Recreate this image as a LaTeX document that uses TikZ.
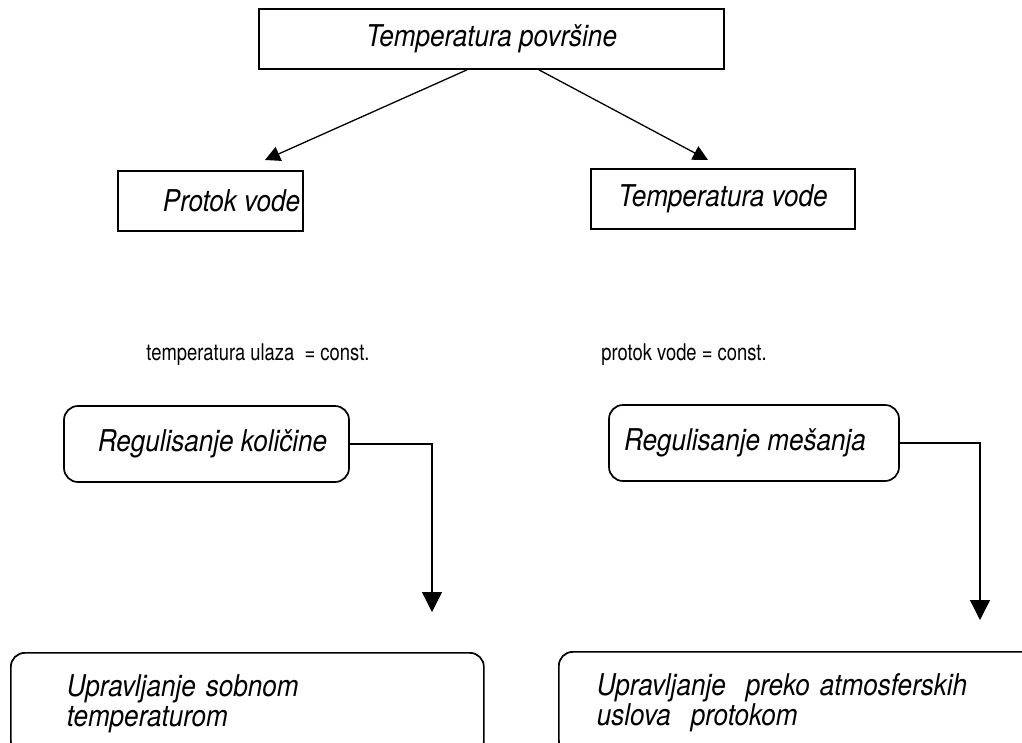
\documentclass[tikz,border=0pt]{standalone}
\usepackage{fontspec}
\setmainfont{TeX Gyre Heros}[FakeStretch=0.87]
\newfontfamily\condfont{TeX Gyre Heros}[FakeStretch=0.8]
\usetikzlibrary{arrows.meta}

\begin{document}
\begin{tikzpicture}[x=1pt,y=-1pt,
    box/.style={draw, line width=1.7pt, inner sep=0pt,
      font=\fontsize{30}{30}\selectfont\itshape},
    roundbox/.style={box, rounded corners=14pt},
    cond/.style={font=\condfont\fontsize{23}{27}\selectfont},
    link/.style={line width=1.3pt, -{Triangle[length=15pt,width=15pt]}},
    drop/.style={line width=1.3pt, -{Triangle[length=20pt,width=20pt]}}]
  \clip (0,0) rectangle (1022,742);

  % quantity that is measured
  \node[box, minimum width=465pt, minimum height=60pt] (surface) at (491.5,39) {Temperatura površine};
  \node[box, minimum width=185pt, minimum height=60pt] (flow) at (210.5,201) {\hspace*{42pt}Protok vode};
  \node[box, minimum width=264pt, minimum height=60pt] (watertemp) at (723,199) {Temperatura vode};

  \coordinate (flowtip) at (265,160);
  \coordinate (temptip) at (708,160);
  \draw[link] ([xshift=-24.5pt]surface.south) -- (flowtip);
  \draw[link] ([xshift=47.5pt]surface.south) -- (temptip);

  % what is held constant
  \node[cond] (inletconst) at (258,355) {temperatura ulaza\ \ = const.};
  \node[cond] (flowconst) at (684,355) {protok vode = const.};

  % kind of regulation
  \node[roundbox, minimum width=285pt, minimum height=76pt] (quantity) at (206.5,444) {\hspace*{12pt}Regulisanje količine};
  \node[roundbox, minimum width=290pt, minimum height=76pt] (mixing) at (754,443) {Regulisanje mešanja\hspace*{18pt}};

  \coordinate (quantitytip) at (432,612);
  \coordinate (mixingtip) at (980,620);
  \draw[drop] (quantity.east) -| (quantitytip);
  \draw[drop] (mixing.east) -| (mixingtip);

  % control, boxes run past the lower edge
  \node[roundbox, anchor=north west, text width=361pt, inner xsep=56pt, inner ysep=22pt,
    align=left] (room) at (10,652) {Upravljanje sobnom\\temperaturom\\[6pt]};
  \node[roundbox, anchor=north west, text width=402pt, inner xsep=38pt, inner ysep=22pt,
    align=left] (weather) at (558,651) {Upravljanje\ \ preko atmosferskih\\uslova\ \ protokom\\[6pt]};
\end{tikzpicture}
\end{document}
